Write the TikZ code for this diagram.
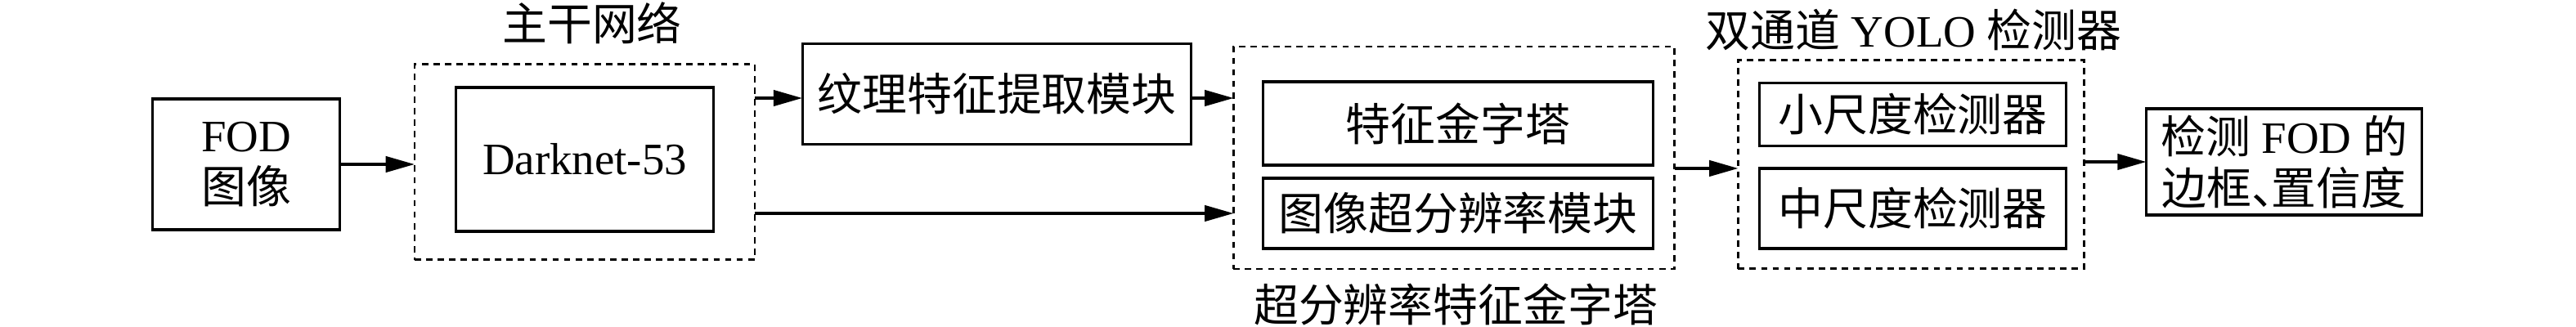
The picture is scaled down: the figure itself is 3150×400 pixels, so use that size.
\documentclass[tikz,border=0pt]{standalone}
\usepackage{fontspec}
\setmainfont{Liberation Serif}
\newfontfamily\cjk{Noto Sans CJK SC}
\usetikzlibrary{arrows.meta}
\newcommand{\zh}[1]{{\cjk #1}}
\tikzset{
    box/.style={draw, line width=0.9pt, inner sep=0pt, outer sep=0pt, align=center},
    dashbox/.style={draw, line width=0.75pt, dash pattern=on 2.2pt off 1.8pt, inner sep=0pt, outer sep=0pt},
    lbl/.style={inner sep=0pt},
    arr/.style={-{Triangle[length=10pt,width=5.5pt]}, line width=0.9pt}
}
\begin{document}
\begin{tikzpicture}[x=0.01cm,y=-0.01cm,font=\fontsize{15.6pt}{18pt}\selectfont]
        \useasboundingbox (0,0) rectangle (3150,400);

        \node[box, minimum width=2.29cm, minimum height=1.60cm] (fod) at (301,201) {FOD\\\zh{图像}};

        % backbone
        \node[dashbox, minimum width=4.16cm, minimum height=2.39cm] (bb) at (715,198) {};
        \node[box, minimum width=3.14cm, minimum height=1.76cm] (darknet) at (715,195) {Darknet-53};
        \node[lbl] (bblbl) at (724,28) {\zh{主干网络}};

        \node[box, minimum width=4.74cm, minimum height=1.23cm] (tex) at (1219,115) {\zh{纹理特征提取模块}};

        % super-resolution feature pyramid
        \node[dashbox, minimum width=5.39cm, minimum height=2.72cm] (sr) at (1778,193) {};
        \node[box, minimum width=4.76cm, minimum height=1.02cm] (fpn) at (1783,151) {\zh{特征金字塔}};
        \node[box, minimum width=4.76cm, minimum height=0.86cm] (srm) at (1783,261) {\zh{图像超分辨率模块}};
        \node[lbl] (srlbl) at (1780,372) {\zh{超分辨率特征金字塔}};

        % detectors
        \node[dashbox, minimum width=4.23cm, minimum height=2.55cm] (det) at (2337,201) {};
        \node[box, minimum width=3.74cm, minimum height=0.77cm] (small) at (2339,140) {\zh{小尺度检测器}};
        \node[box, minimum width=3.74cm, minimum height=0.98cm] (mid) at (2339,255) {\zh{中尺度检测器}};
        \node[lbl] (detlbl) at (2340,37) {\zh{双通道} YOLO \zh{检测器}};

        \node[box, minimum width=3.37cm, minimum height=1.30cm] (out) at (2793,198)
            {\zh{检测} FOD \zh{的}\\\zh{边框}\makebox[0.45em][l]{\zh{、}}\zh{置信度}};

        \coordinate (texin) at (981,120);
        \draw[arr] (fod.east) -- (bb.west |- fod.east);
        \draw[arr] (bb.east |- texin) -- (texin);
        \draw[arr] (tex.east |- texin) -- (sr.west |- texin);
        \draw[arr] (bb.east |- srm.west) -- (sr.west |- srm.west);
        \draw[arr] (sr.east |- mid.north) -- (det.west |- mid.north);
        \draw[arr] (det.east |- out.west) -- (out.west);
    \end{tikzpicture}
\end{document}
